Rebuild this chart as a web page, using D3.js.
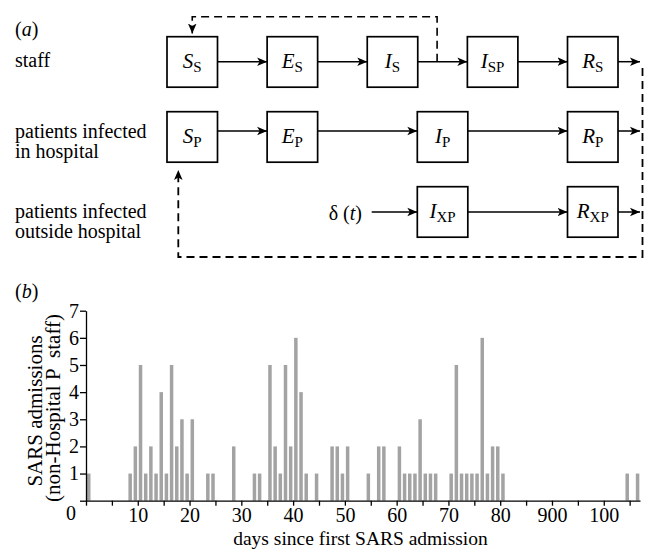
<!DOCTYPE html>
<html><head><meta charset="utf-8">
<script src="https://cdn.jsdelivr.net/npm/d3@7"></script>
<style>
body{margin:0;background:#fff}
svg{display:block}
text{font-family:"Liberation Serif","Times New Roman",serif;fill:#000}
</style>
</head><body><svg id="c" width="646" height="549"></svg>
<script>
// ---- data: panel (b) ----
const days   = [0,8,9,10,11,12,13,14,15,16,17,18,19,20,23,24,28,32,33,35,36,37,38,39,40,41,42,44,47,48,49,50,54,56,57,60,61,62,63,64,65,66,67,70,71,72,73,74,75,76,77,78,79,80,104,106];
const counts = [1,1,2,5,1,2,1,4,1,5,2,3,1,3,1,1,2,1,1,5,2,1,5,2,6,4,1,1,2,2,1,2,1,2,2,2,1,1,1,3,1,1,1,1,5,1,1,1,1,6,1,2,2,1,1,1];
const xTickValues = [10,20,30,40,50,60,70,80,90,100];
const xTickLabels = ["10","20","30","40","50","60","70","80","900","100"];
const yTickValues = [0,1,2,3,4,5,6,7];
const xTitle = "days since first SARS admission";
const yTitle = ["SARS admissions","(non-Hospital P\u00a0\u00a0staff)"];

// ---- data: panel (a) ----
const rowLabels = [["staff"],["patients infected","in hospital"],["patients infected","outside hospital"]];
const boxMain = ["S","E","I","I","R","S","E","I","R","I","R"];
const boxSub  = ["S","S","S","SP","S","P","P","P","P","XP","XP"];
const boxRow  = [0,0,0,0,0,1,1,1,1,2,2];
const boxCol  = [0,1,2,3,4,0,1,2.5,4,2.5,4];
const rowSeq  = [[0,1,2,3,4],[5,6,7,8],[9,10]];

const svg = d3.select("#c");

// ================= panel (a) =================
const colX = d3.scaleLinear().domain([0,4]).range([167,567.5]);
const rowY = d3.scaleLinear().domain([0,2]).range([36.7,186.7]);
const BW = 50.5, BH = 50.5;
const arrowOff = [25, 19.3, 25.3];

const defs = svg.append("defs");
defs.append("marker").attr("id","ah").attr("viewBox","0 -5 11 10")
  .attr("refX",10).attr("refY",0).attr("markerWidth",11).attr("markerHeight",10)
  .attr("markerUnits","userSpaceOnUse").attr("orient","auto")
  .append("path").attr("d","M0,-4.3L10,0L0,4.3L2.5,0Z").attr("fill","#000");

const pa = svg.append("g");

pa.append("text").attr("x",15).attr("y",36).attr("font-size",20)
  .call(t=>{t.append("tspan").text("(");t.append("tspan").attr("font-style","italic").text("a");t.append("tspan").text(")");});

const rowBase = [[67],[137.5,157.5],[217.5,237.5]];
rowLabels.forEach((lines,i)=>{
  lines.forEach((ln,j)=>{
    pa.append("text").attr("x",15).attr("y",rowBase[i][j]).attr("font-size",20).text(ln);
  });
});

boxMain.forEach((m,i)=>{
  const x0 = colX(boxCol[i]), y0 = rowY(boxRow[i]);
  pa.append("rect").attr("x",x0).attr("y",y0).attr("width",BW).attr("height",BH)
    .attr("fill","none").attr("stroke","#000").attr("stroke-width",1.7);
  const t = pa.append("text").attr("x",x0+BW/2).attr("y",y0+BH/2+6).attr("text-anchor","middle").attr("font-size",21);
  t.append("tspan").attr("font-style","italic").text(m);
  t.append("tspan").attr("font-size",15).attr("dy",4).text(boxSub[i]);
});

function arrow(x1,y,x2){
  pa.append("line").attr("x1",x1).attr("y1",y).attr("x2",x2).attr("y2",y)
    .attr("stroke","#000").attr("stroke-width",1.5).attr("marker-end","url(#ah)");
}
rowSeq.forEach((seq,r)=>{
  const y = rowY(r)+arrowOff[r];
  for(let k=0;k<seq.length-1;k++){
    arrow(colX(boxCol[seq[k]])+BW, y, colX(boxCol[seq[k+1]]));
  }
  arrow(colX(boxCol[seq[seq.length-1]])+BW, y, 640);
});
const y3 = rowY(2)+arrowOff[2];
arrow(371.7, y3, colX(2.5));
pa.append("text").attr("x",362).attr("y",220).attr("text-anchor","end").attr("font-size",20)
  .call(t=>{t.append("tspan").text("\u03b4 (");t.append("tspan").attr("font-style","italic").text("t");t.append("tspan").text(")");});

const iSx = colX(2)+BW + (colX(3)-colX(2)-BW)*0.39;
pa.append("path")
  .attr("d",`M${iSx},${rowY(0)+25} V16.7 H${colX(0)+BW/2} V33.5`)
  .attr("fill","none").attr("stroke","#000").attr("stroke-width",1.6)
  .attr("stroke-dasharray","8,5").attr("marker-end","url(#ah)");
pa.append("path")
  .attr("d",`M642.5,68 V257 H178.3 V170`)
  .attr("fill","none").attr("stroke","#000").attr("stroke-width",1.8)
  .attr("stroke-dasharray","8,5").attr("marker-end","url(#ah)");

// ================= panel (b) =================
const x = d3.scaleLinear().domain([0,107]).range([86,640]);
const y = d3.scaleLinear().domain([0,7]).range([500.7,310.7]);

const pb = svg.append("g");
pb.append("text").attr("x",15).attr("y",298).attr("font-size",20)
  .call(t=>{t.append("tspan").text("(");t.append("tspan").attr("font-style","italic").text("b");t.append("tspan").text(")");});

pb.append("g").selectAll("rect").data(days).join("rect")
  .attr("x",(d)=>x(d)+1).attr("width",3.5)
  .attr("y",(d,i)=>y(counts[i])).attr("height",(d,i)=>y(0)-y(counts[i]))
  .attr("fill","#a3a3a3");

const xMinor = d3.range(0,106,5);
const gx = pb.append("g").attr("transform",`translate(0,${y(0)})`)
  .call(d3.axisBottom(x).tickValues(xMinor).tickSize(5).tickSizeOuter(0).tickPadding(2)
    .tickFormat(d=>{const k=xTickValues.indexOf(d);return k>=0?xTickLabels[k]:"";}));
gx.selectAll("text").attr("font-size",20);
gx.selectAll("line,path").attr("stroke","#000").attr("stroke-width",1.3);

const gy = pb.append("g").attr("transform",`translate(${x(0)},0)`)
  .call(d3.axisLeft(y).tickValues(yTickValues).tickSize(6).tickSizeOuter(0).tickPadding(1).tickFormat(d3.format("d")));
gy.selectAll("text").attr("font-size",20);
gy.selectAll("line,path").attr("stroke","#000").attr("stroke-width",1.3);
gy.selectAll(".tick").filter(d=>d===0).select("text").attr("transform","translate(-3,12)");

pb.append("text").attr("x",360.5).attr("y",545).attr("text-anchor","middle").attr("font-size",19.5).text(xTitle);
pb.append("text").attr("transform","translate(41.5,411) rotate(-90)").attr("text-anchor","middle").attr("font-size",21).text(yTitle[0]);
pb.append("text").attr("transform","translate(59.5,408) rotate(-90)").attr("text-anchor","middle").attr("font-size",21).text(yTitle[1]);
</script>
</body></html>
